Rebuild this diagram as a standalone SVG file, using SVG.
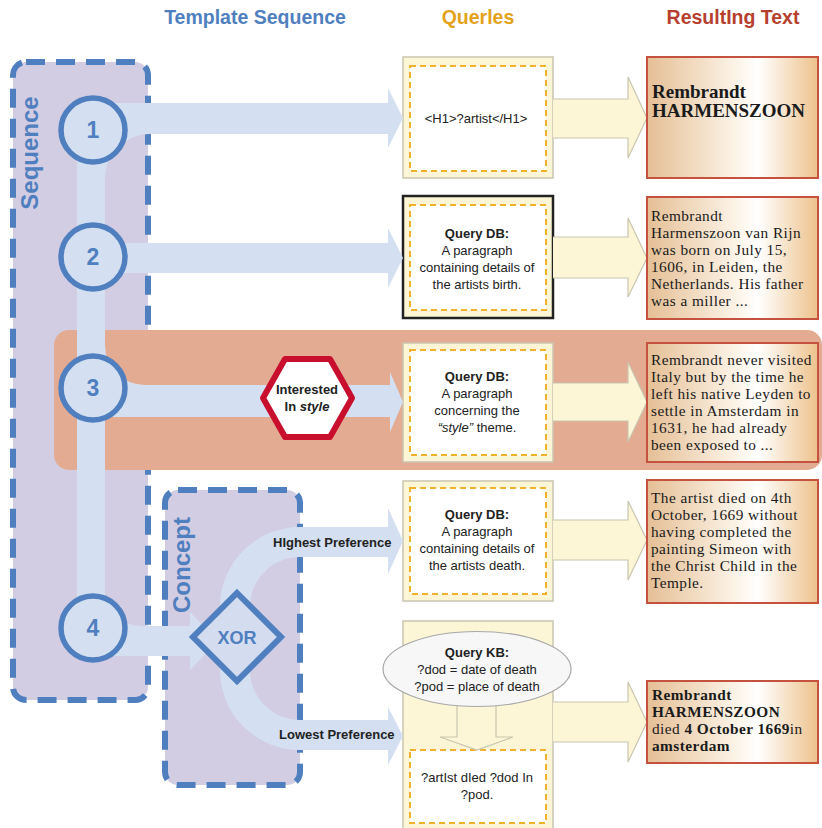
<svg xmlns="http://www.w3.org/2000/svg" width="822" height="828" viewBox="0 0 822 828">
  <defs>
    <linearGradient id="resFill" x1="0" y1="0" x2="1" y2="0">
      <stop offset="0" stop-color="#e5bf95"/>
      <stop offset="0.55" stop-color="#fdf6ec"/>
      <stop offset="0.65" stop-color="#ffffff"/>
      <stop offset="1" stop-color="#edc28c"/>
    </linearGradient>
    <style>
      .hdr { font-family: "Liberation Sans", Arial, sans-serif; font-weight: bold; font-size: 19.5px; text-anchor: middle; }
      .group { fill: #d2cde3; stroke: #4f7fbf; stroke-width: 6; stroke-dasharray: 19 11; }
      .band { fill: #d4e0f1; }
      .step circle { fill: #d4e0f1; stroke: #4f7fbf; stroke-width: 5.5; }
      .blue { font-family: "Liberation Sans", Arial, sans-serif; font-weight: bold; fill: #4f7fbf; }
      .num { font-size: 23px; text-anchor: middle; }
      .q-outer { fill: #fdf6d6; stroke: #c9c5b0; stroke-width: 1.5; }
      .q-inner { fill: #ffffff; stroke: #f0b12c; stroke-width: 2; stroke-dasharray: 6 4; }
      .flow { fill: #fdf6d6; stroke: #c9c5b0; stroke-width: 1.2; }
      .qt { font-family: "Liberation Sans", Arial, sans-serif; font-size: 13px; fill: #222; text-anchor: middle; }
      .res { fill: url(#resFill); stroke: #c4523e; stroke-width: 2; }
      .rt { font-family: "Liberation Serif", "Times New Roman", serif; font-size: 15.3px; letter-spacing: 0.45px; fill: #1a1a1a; }
      .big { font-size: 19px; letter-spacing: 0; font-weight: bold; }
      .lbl { font-family: "Liberation Sans", Arial, sans-serif; font-size: 13px; font-weight: bold; fill: #222; }
    </style>
  </defs>

  <rect width="822" height="828" fill="#ffffff"/>

  <!-- column headings -->
  <text class="hdr" x="255" y="24" fill="#4f7fbf">Template Sequence</text>
  <text class="hdr" x="478" y="24" fill="#e3a21a">Querles</text>
  <text class="hdr" x="733" y="24" fill="#b5402e">ResultIng Text</text>

  <!-- grouping containers -->
  <g id="sequence">
    <rect class="group" x="13" y="62" width="135" height="638" rx="13"/>
    <text class="blue" font-size="24" text-anchor="middle" transform="translate(38,153) rotate(-90)">Sequence</text>
  </g>
  <g id="concept">
    <rect class="group" x="165" y="490" width="135" height="295" rx="13"/>
    <text class="blue" font-size="24" text-anchor="middle" transform="translate(190,565) rotate(-90)">Concept</text>
  </g>

  <!-- highlighted step 3 row -->
  <rect id="step3-row" x="54" y="330" width="768" height="140" rx="15" fill="#e3ab91"/>

  <!-- query boxes -->
  <g id="query1">
    <rect class="q-outer" x="403" y="57" width="150" height="121"/>
    <rect class="q-inner" x="410" y="66" width="136" height="105"/>
    <text class="qt" x="476" y="123">&lt;H1&gt;?artist&lt;/H1&gt;</text>
  </g>
  <g id="query2">
    <rect class="q-outer" x="403" y="196" width="150" height="122" style="stroke:#222;stroke-width:2.5"/>
    <rect class="q-inner" x="410" y="205" width="136" height="105"/>
    <text class="qt" y="238"><tspan x="477" font-weight="bold">Query DB:</tspan><tspan x="477" dy="17">A paragraph</tspan><tspan x="477" dy="17">containing details of</tspan><tspan x="477" dy="17">the artists birth.</tspan></text>
  </g>
  <g id="query3">
    <rect class="q-outer" x="403" y="343" width="150" height="119"/>
    <rect class="q-inner" x="410" y="350" width="136" height="105"/>
    <text class="qt" y="381"><tspan x="477" font-weight="bold">Query DB:</tspan><tspan x="477" dy="17">A paragraph</tspan><tspan x="477" dy="17">concerning the</tspan><tspan x="477" dy="17"><tspan font-style="italic">“style”</tspan> theme.</tspan></text>
  </g>
  <g id="query4">
    <rect class="q-outer" x="403" y="481" width="150" height="120"/>
    <rect class="q-inner" x="410" y="488" width="136" height="106"/>
    <text class="qt" y="519"><tspan x="477" font-weight="bold">Query DB:</tspan><tspan x="477" dy="17">A paragraph</tspan><tspan x="477" dy="17">containing details of</tspan><tspan x="477" dy="17">the artists death.</tspan></text>
  </g>
  <g id="query5">
    <rect class="q-outer" x="403" y="621" width="150" height="220"/>
    <rect class="q-inner" x="410" y="750" width="136" height="73"/>
    <path class="flow" d="M457,700 V737 H440 L477,750 L513,737 H496 V700 Z"/>
    <ellipse cx="477" cy="669" rx="94" ry="37.5" fill="#f7f7f7" stroke="#a8a8a8" stroke-width="1.2"/>
    <text class="qt" y="657"><tspan x="477" font-weight="bold">Query KB:</tspan><tspan x="477" dy="17">?dod = date of death</tspan><tspan x="477" dy="17">?pod = place of death</tspan></text>
    <text class="qt" y="782"><tspan x="477">?artIst dIed ?dod In</tspan><tspan x="477" dy="17">?pod.</tspan></text>
  </g>

  <!-- connectors -->
  <g id="connectors">
    <!-- sequence spine and its branches -->
    <rect class="band" x="77" y="130" width="28" height="498"/>
    <path class="band" d="M105,103 H388 V88 L403,118 L388,148 V134 H105 Z"/>
    <path class="band" d="M150,134 A45 45 0 0 0 105 179 L105 134 Z"/>
    <path class="band" d="M105,243 H388 V228 L403,258 L388,288 V273 H105 Z"/>
    <path class="band" d="M105,385 H390 V372 L403,402 L390,432 V417 H105 Z"/>
    <path class="band" d="M105,345 A40 40 0 0 0 145 385 L105 385 Z"/>
    <path class="band" d="M105,626 H190 V612 L218,641 L190,670 V656 H105 Z"/>
    <path class="band" d="M105,590 A36 36 0 0 0 141 626 L105 626 Z"/>

    <!-- XOR alternatives -->
    <path d="M390,542 H300 A65 65 0 0 0 235 607 V670 A65 65 0 0 0 300 735 H390" fill="none" stroke="#d4e0f1" stroke-width="30"/>
    <polygon class="band" points="388,508 403,541 388,574"/>
    <polygon class="band" points="388,707 403,736 388,765"/>
    <text class="lbl" x="273" y="547">HIghest Preference</text>
    <text class="lbl" x="279" y="739">Lowest Preference</text>

    <!-- query to result arrows -->
    <path class="flow" d="M553,99 H628 V77 L647,118 L628,158 V138 H553"/>
    <path class="flow" d="M553,237 H628 V218 L647,258 L628,297 V278 H553"/>
    <path class="flow" d="M553,383 H628 V362 L647,402 L628,442 V421 H553"/>
    <path class="flow" d="M553,520 H628 V501 L647,540 L628,580 V560 H553"/>
    <path class="flow" d="M553,702 H628 V682 L647,722 L628,762 V742 H553"/>
  </g>

  <!-- sequence steps -->
  <g id="step1" class="step"><circle cx="93" cy="130" r="32"/><text class="blue num" x="93" y="138">1</text></g>
  <g id="step2" class="step"><circle cx="93" cy="257" r="32"/><text class="blue num" x="93" y="265">2</text></g>
  <g id="step3" class="step"><circle cx="93" cy="388" r="32"/><text class="blue num" x="93" y="396">3</text></g>
  <g id="step4" class="step"><circle cx="93" cy="628" r="32"/><text class="blue num" x="93" y="636">4</text></g>

  <!-- condition -->
  <g id="condition">
    <polygon points="263,398 285,359 330,359 352,398 330,437 285,437" fill="#ffffff" stroke="#c8102e" stroke-width="6" stroke-linejoin="round"/>
    <text class="lbl" y="394" text-anchor="middle"><tspan x="307">Interested</tspan><tspan x="307" dy="17">In <tspan font-style="italic">style</tspan></tspan></text>
  </g>

  <!-- XOR choice -->
  <g id="xor">
    <polygon points="237,593 281,637 237,681 193,637" fill="#d4dcef" stroke="#4f7fbf" stroke-width="6" stroke-linejoin="miter"/>
    <text class="blue" x="237" y="644" font-size="18" text-anchor="middle">XOR</text>
  </g>

  <!-- resulting texts -->
  <g id="result1">
    <rect class="res" x="647" y="57" width="171" height="121"/>
    <text class="rt big" y="98"><tspan x="652">Rembrandt</tspan><tspan x="652" dy="19">HARMENSZOON</tspan></text>
  </g>
  <g id="result2">
    <rect class="res" x="647" y="197" width="171" height="122"/>
    <text class="rt" y="221"><tspan x="651">Rembrandt</tspan><tspan x="651" dy="17">Harmenszoon van Rijn</tspan><tspan x="651" dy="17">was born on July 15,</tspan><tspan x="651" dy="17">1606, in Leiden, the</tspan><tspan x="651" dy="17">Netherlands. His father</tspan><tspan x="651" dy="17">was a miller ...</tspan></text>
  </g>
  <g id="result3">
    <rect class="res" x="647" y="343" width="171" height="119"/>
    <text class="rt" y="365"><tspan x="651">Rembrandt never visited</tspan><tspan x="651" dy="17">Italy but by the time he</tspan><tspan x="651" dy="17">left his native Leyden to</tspan><tspan x="651" dy="17">settle in Amsterdam in</tspan><tspan x="651" dy="17">1631, he had already</tspan><tspan x="651" dy="17">been exposed to ...</tspan></text>
  </g>
  <g id="result4">
    <rect class="res" x="647" y="480" width="171" height="123"/>
    <text class="rt" y="503"><tspan x="651">The artist died on 4th</tspan><tspan x="651" dy="17">October, 1669 without</tspan><tspan x="651" dy="17">having completed the</tspan><tspan x="651" dy="17">painting Simeon with</tspan><tspan x="651" dy="17">the Christ Child in the</tspan><tspan x="651" dy="17">Temple.</tspan></text>
  </g>
  <g id="result5">
    <rect class="res" x="647" y="681" width="171" height="82"/>
    <text class="rt" y="700"><tspan x="652" font-weight="bold">Rembrandt</tspan><tspan x="652" dy="17" font-weight="bold">HARMENSZOON</tspan><tspan x="652" dy="17">died <tspan font-weight="bold">4 October 1669</tspan>in</tspan><tspan x="652" dy="17" font-weight="bold">amsterdam</tspan></text>
  </g>
</svg>
